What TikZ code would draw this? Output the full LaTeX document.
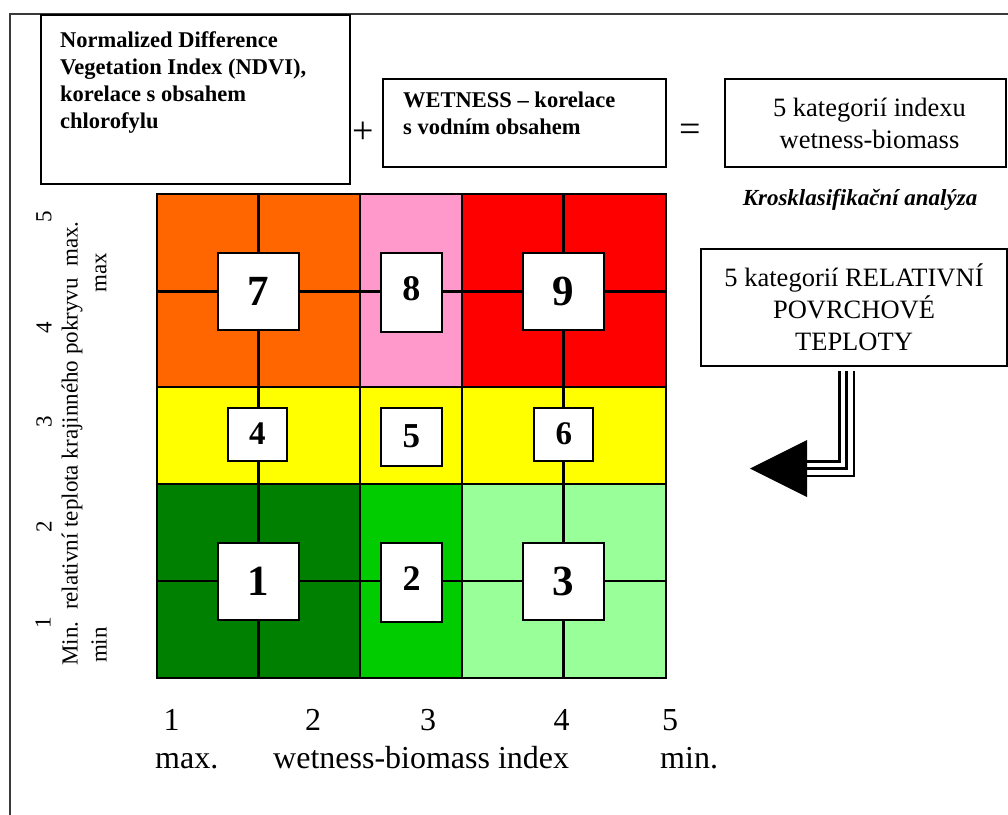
\documentclass[tikz,border=0pt]{standalone}
\usepackage{fontspec}
\setmainfont{Liberation Serif}
\usetikzlibrary{calc}

\definecolor{cOrange}{HTML}{FF6600}
\definecolor{cPink}{HTML}{FF99CC}
\definecolor{cRed}{HTML}{FF0000}
\definecolor{cYellow}{HTML}{FFFF00}
\definecolor{cDGreen}{HTML}{008000}
\definecolor{cGreen}{HTML}{00CC00}
\definecolor{cLGreen}{HTML}{99FF99}
\definecolor{frameGray}{HTML}{3A3A3A}

\begin{document}
\begin{tikzpicture}[x=1pt,y=-1pt,
  box/.style={draw=black, line width=2pt, fill=white, inner sep=0pt, anchor=north west},
  cell/.style={draw=black, line width=2pt, fill=white, inner sep=0pt},
  big/.style={cell, minimum width=81pt, minimum height=77pt, font=\bfseries\fontsize{43}{43}\selectfont},
  mid/.style={cell, minimum width=61pt, minimum height=79pt, font=\bfseries\fontsize{36}{36}\selectfont},
  raised/.style={text height=24.5pt, text depth=8pt},
  small/.style={cell, minimum width=59pt, minimum height=53pt, font=\bfseries\fontsize{33}{33}\selectfont},
  gridline/.style={draw=black, line width=2.5pt},
  boxtext/.style={anchor=north west, align=left, inner sep=0pt, font=\bfseries\fontsize{22.5}{27}\selectfont},
  cattext/.style={align=center, font=\fontsize{26.5}{32}\selectfont},
  ylab/.style={rotate=90, inner sep=0pt, font=\fontsize{23}{28}\selectfont},
  xlab/.style={inner sep=0pt, font=\fontsize{32}{32}\selectfont},
  sign/.style={inner sep=0pt, font=\fontsize{38}{38}\selectfont}
]
\useasboundingbox (0,0) rectangle (1008,814);
\fill[white] (0,0) rectangle (1008,814);

% outer frame (partial)
\draw[line width=2.5pt, frameGray] (10,820) -- (10,14) -- (1012,14);

% top boxes
\node[box, minimum width=309pt, minimum height=169pt] (ndvi) at (40,14) {};
\node[boxtext] (ndvitext) at (60,31) {Normalized Difference\\Vegetation Index (NDVI),\\korelace s obsahem\\chlorofylu};

\node[sign] (plus) at (363,133) {+};

\node[box, minimum width=283pt, minimum height=88pt] (wet) at (382,78) {};
\node[boxtext] (wettext) at (403,92) {WETNESS -- korelace\\s vodním obsahem};

\node[sign] (eq) at (690,133) {=};

\node[box, minimum width=281pt, minimum height=88pt] (cat) at (724,78) {};
\node[cattext] (cattxt) at ($(cat.center)+(4,0)$) {5 kategorií indexu\\wetness-biomass};

\node[inner sep=0pt, font=\bfseries\itshape\fontsize{23}{23}\selectfont] (kros) at (860,200) {Krosklasifikační analýza};

\node[box, minimum width=306pt, minimum height=117pt] (rel) at (700,248) {};
\node[cattext] (reltxt) at (rel.center) {5 kategorií RELATIVNÍ\\POVRCHOVÉ\\TEPLOTY};

% triple-line arrow
\coordinate (arrstart) at (846.5,371);
\coordinate (arrend) at (806,468.5);
\draw[line width=17pt, black] (arrstart) |- (arrend);
\draw[line width=12pt, white] (arrstart) |- (arrend);
\draw[line width=2.5pt, black] (arrstart) |- (arrend);
\fill[black] (750,468.5) -- (807,440) -- (807,497) -- cycle;

% colour regions
\fill[cOrange] (157,194) rectangle (360,387);
\fill[cPink]   (360,194) rectangle (462,387);
\fill[cRed]    (462,194) rectangle (666,387);
\fill[cYellow] (157,387) rectangle (666,484);
\fill[cDGreen] (157,484) rectangle (360,678);
\fill[cGreen]  (360,484) rectangle (462,678);
\fill[cLGreen] (462,484) rectangle (666,678);

% grid
\foreach \x in {258.7,360,462,563.5}
  \draw[gridline] (\x,194) -- (\x,678);
\foreach \y in {291.7,387,484,581}
  \draw[gridline] (157,\y) -- (666,\y);
\draw[gridline] (157,194) rectangle (666,678);

% numbered cells
\node[big]   (n7) at (258.5,291.5) {7};
\node[mid, raised] (n8) at (411.3,292) {8};
\node[big]   (n9) at (563.3,291.7) {9};
\node[small] (n4) at (257.3,434) {4};
\node[mid, minimum height=58pt, font=\bfseries\fontsize{35}{35}\selectfont] (n5) at (411.3,436.7) {5};
\node[small] (n6) at (563.8,434) {6};
\node[big]   (n1) at (258.3,581.3) {1};
\node[mid, raised] (n2) at (411.5,582.2) {2};
\node[big]   (n3) at (563.7,581.3) {3};

% y axis labels
\node[ylab] (yaxis) at (72,443.5) {Min.\hspace{0.5em}relativní teplota krajinného pokryvu\hspace{0.5em}max.};
\node[ylab] (ymax) at (101,273) {max};
\node[ylab] (ymin) at (99,645) {min};
\node[ylab] (y5) at (44,216.7) {5};
\node[ylab] (y4) at (44,328) {4};
\node[ylab] (y3) at (44,422) {3};
\node[ylab] (y2) at (44,527) {2};
\node[ylab] (y1) at (43,623) {1};

% x axis labels
\node[xlab] (x1) at (171.7,720) {1};
\node[xlab] (x2) at (313,720) {2};
\node[xlab] (x3) at (428,720) {3};
\node[xlab] (x4) at (561.7,720) {4};
\node[xlab] (x5) at (670,720) {5};
\node[xlab, anchor=base west] (xmax) at (155,768) {max.};
\node[xlab, anchor=base west] (xmid) at (273,768) {wetness-biomass index};
\node[xlab, anchor=base west] (xmin) at (660,768) {min.};
\end{tikzpicture}
\end{document}
